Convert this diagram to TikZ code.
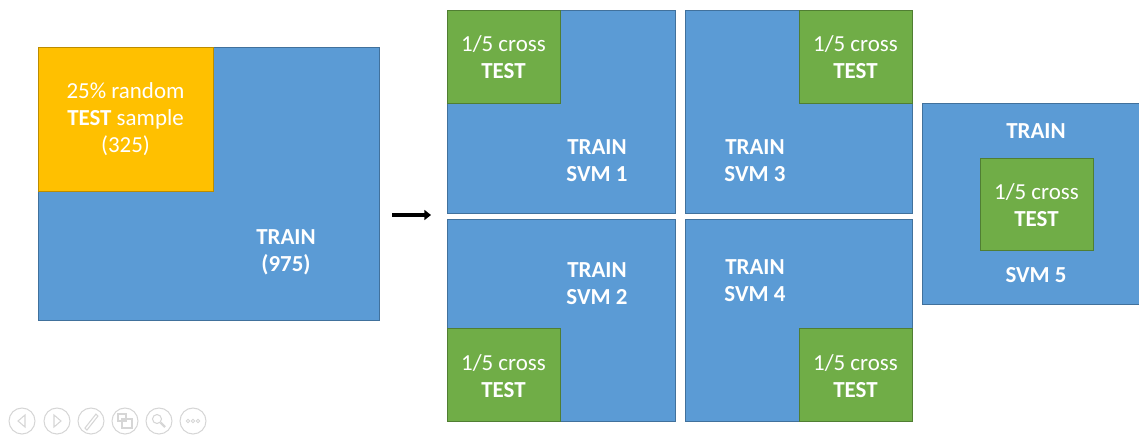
\documentclass[tikz,border=0pt]{standalone}
\usepackage{fontspec}
\setmainfont{Carlito}
\usetikzlibrary{fit,arrows.meta}
\definecolor{cblue}{HTML}{5B9BD5}
\definecolor{cbluedk}{HTML}{41719C}
\definecolor{cgreen}{HTML}{70AD47}
\definecolor{cgreendk}{HTML}{507E32}
\definecolor{corange}{HTML}{FFC000}
\definecolor{corangedk}{HTML}{BC8C00}
\definecolor{cicon}{HTML}{D6D6D6}
\tikzset{
  bluebox/.style={fill=cblue, draw=cbluedk, line width=0.6pt, inner sep=0pt},
  greenbox/.style={fill=cgreen, draw=cgreendk, line width=0.6pt, inner sep=0pt},
  orangebox/.style={fill=corange, draw=corangedk, line width=0.6pt, inner sep=0pt},
  lbl/.style={text=white, align=center, inner sep=0pt, font=\fontsize{17.2}{20.3}\selectfont},
  icon/.style={draw=cicon, line width=0.8pt},
}
\begin{document}
\begin{tikzpicture}[x=0.75pt, y=-0.75pt]
\useasboundingbox (0,0) rectangle (1139,437);
% left big box
\node[bluebox, fit={(38,47) (379,320)}] (big) {};
\node[orangebox, fit={(38,47) (213,191)}] (sample) {};
\node[lbl] (sampletxt) at (125.5,119) {25\% random\\\textbf{TEST} sample\\(325)};
\node[lbl] (train0) at (286,252) {\textbf{TRAIN}\\\textbf{(975)}};
% arrow
\coordinate (a1) at (392,215);
\coordinate (a2) at (431,215);
\draw[line width=2.4pt, -{Triangle[length=5pt,width=7.5pt]}] (a1) -- (a2);
% SVM 1
\node[bluebox, fit={(447,10) (675,213)}] (svm1) {};
\node[greenbox, fit={(447,10) (560,103)}] (t1) {};
\node[lbl] (t1txt) at (503.5,57) {1/5 cross\\\textbf{TEST}};
\node[lbl] (s1txt) at (597,161) {\textbf{TRAIN}\\\textbf{SVM 1}};
% SVM 3
\node[bluebox, fit={(685,10) (912,213)}] (svm3) {};
\node[greenbox, fit={(799,10) (912,103)}] (t3) {};
\node[lbl] (t3txt) at (855.5,57) {1/5 cross\\\textbf{TEST}};
\node[lbl] (s3txt) at (755,161) {\textbf{TRAIN}\\\textbf{SVM 3}};
% SVM 2
\node[bluebox, fit={(447,219) (675,421)}] (svm2) {};
\node[greenbox, fit={(447,328) (560,421)}] (t2) {};
\node[lbl] (t2txt) at (503.5,376) {1/5 cross\\\textbf{TEST}};
\node[lbl] (s2txt) at (597,284) {\textbf{TRAIN}\\\textbf{SVM 2}};
% SVM 4
\node[bluebox, fit={(685,219) (912,421)}] (svm4) {};
\node[greenbox, fit={(799,328) (912,421)}] (t4) {};
\node[lbl] (t4txt) at (855.5,376) {1/5 cross\\\textbf{TEST}};
\node[lbl] (s4txt) at (755,281) {\textbf{TRAIN}\\\textbf{SVM 4}};
% SVM 5
\node[bluebox, fit={(922,103) (1141,304)}] (svm5) {};
\node[greenbox, fit={(980,158) (1093,250)}] (t5) {};
\node[lbl] (t5txt) at (1036.5,205) {1/5 cross\\\textbf{TEST}};
\node[lbl] (s5top) at (1036,131) {\textbf{TRAIN}};
\node[lbl] (s5bot) at (1036,275) {\textbf{SVM 5}};
% presentation controls
\foreach \x/\n in {22/c1,57/c2,91/c3,125/c4,159/c5,193/c6}{
  \draw[icon] (\x,421) circle[radius=13];
}
\draw[icon] (25,415) -- (18,421) -- (25,427) -- cycle;
\draw[icon] (54,415) -- (61,421) -- (54,427) -- cycle;
\draw[icon] (85,428) -- (96,414) -- (98,416) -- (87,430) -- cycle;
\draw[icon] (118,414) rectangle (126,421);
\draw[icon] (122,419) rectangle (132,428);
\draw[icon] (157,419) circle[radius=4.5];
\draw[icon, line width=1.6pt] (160.5,422.5) -- (165,427);
\foreach \dx in {-5,0,5}{\draw[icon, line width=0.6pt] (193+\dx,421) circle[radius=1.7];}
\end{tikzpicture}
\end{document}
